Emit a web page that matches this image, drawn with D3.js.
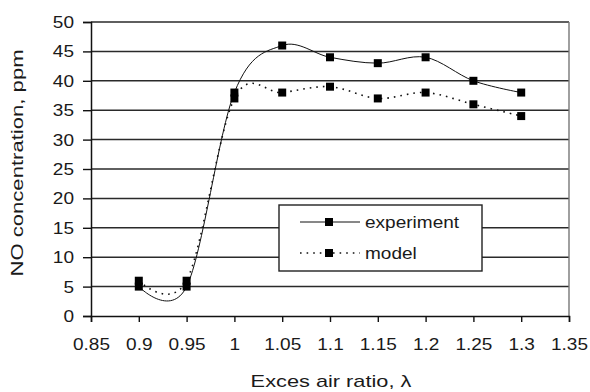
<!DOCTYPE html>
<html>
<head>
<meta charset="utf-8">
<script src="https://cdn.jsdelivr.net/npm/d3@7"></script>
<style>
  body { margin: 0; background: #fff; }
  text { font-family: "Liberation Sans", Arial, sans-serif; fill: #1a1a1a; }
</style>
</head>
<body>
<svg id="chart" width="590" height="392"></svg>
<script>
// data
var lambda = [0.9, 0.95, 1.0, 1.05, 1.1, 1.15, 1.2, 1.25, 1.3];
var experiment = [5, 5, 38, 46, 44, 43, 44, 40, 38];
var model = [6, 6, 37, 38, 39, 37, 38, 36, 34];
var xTicks = [0.85, 0.9, 0.95, 1, 1.05, 1.1, 1.15, 1.2, 1.25, 1.3, 1.35];
var yTicks = [0, 5, 10, 15, 20, 25, 30, 35, 40, 45, 50];
var seriesNames = ['experiment', 'model'];

var svg = d3.select('#chart');
var pL = 91, pR = 569, pT = 22, pB = 316;
var sx = 1.12; // text is a bit wide in the original

var x = d3.scaleLinear().domain([0.85, 1.35]).range([pL, pR]);
var y = d3.scaleLinear().domain([0, 50]).range([pB, pT]);

// horizontal grid
svg.append('g').selectAll('line').data(yTicks.slice(1)).enter().append('line')
  .attr('x1', pL).attr('x2', pR)
  .attr('y1', function(d){ return y(d); }).attr('y2', function(d){ return y(d); })
  .attr('stroke', '#2a2a2a').attr('stroke-width', 1.5);

// right border
svg.append('line').attr('x1', pR).attr('x2', pR).attr('y1', pT).attr('y2', pB)
  .attr('stroke', '#777').attr('stroke-width', 1.4);

// y axis
var yAxis = svg.append('g').attr('transform', 'translate(' + pL + ',0)')
  .call(d3.axisLeft(y).tickValues(yTicks).tickSize(8).tickPadding(9).tickFormat(d3.format('d')));
// x axis
var xAxis = svg.append('g').attr('transform', 'translate(0,' + pB + ')')
  .call(d3.axisBottom(x).tickValues(xTicks).tickSize(6).tickPadding(16).tickFormat(function(d){ return String(+d.toFixed(2)); }));

[yAxis, xAxis].forEach(function(a){
  a.select('.domain').attr('stroke', '#111').attr('stroke-width', 1.5);
  a.selectAll('.tick line').attr('stroke', '#111').attr('stroke-width', 1.4);
  a.selectAll('.tick text').attr('font-size', 17).attr('fill', '#1a1a1a')
    .attr('font-family', '"Liberation Sans", Arial, sans-serif');
});
yAxis.selectAll('.tick text').attr('transform', 'translate(-17,0) scale(' + sx + ',1) translate(17,0)');
xAxis.selectAll('.tick text').attr('transform', 'scale(' + sx + ',1)');

var line = d3.line()
  .x(function(d){ return x(d[0]); })
  .y(function(d){ return y(d[1]); })
  .curve(d3.curveCardinal.tension(0));

var expPts = lambda.map(function(l, i){ return [l, experiment[i]]; });
var modPts = lambda.map(function(l, i){ return [l, model[i]]; });

svg.append('path').datum(modPts).attr('d', line).attr('fill', 'none')
  .attr('stroke', '#111').attr('stroke-width', 1.6).attr('stroke-dasharray', '1.6,5');
svg.append('path').datum(expPts).attr('d', line).attr('fill', 'none')
  .attr('stroke', '#111').attr('stroke-width', 1);

var ms = 8;
[modPts, expPts].forEach(function(pts){
  svg.append('g').selectAll('rect').data(pts).enter().append('rect')
    .attr('x', function(d){ return x(d[0]) - ms/2; })
    .attr('y', function(d){ return y(d[1]) - ms/2; })
    .attr('width', ms).attr('height', ms).attr('fill', '#000');
});

// legend
var lg = svg.append('g').attr('transform', 'translate(279,205)');
lg.append('rect').attr('width', 203).attr('height', 66)
  .attr('fill', '#fff').attr('stroke', '#222').attr('stroke-width', 1.4);
seriesNames.forEach(function(name, i){
  var yy = 17 + i * 31;
  lg.append('line').attr('x1', 21).attr('x2', 81).attr('y1', yy).attr('y2', yy)
    .attr('stroke', '#111').attr('stroke-width', i ? 1.6 : 1)
    .attr('stroke-dasharray', i ? '1.6,5' : null);
  lg.append('rect').attr('x', 50 - ms/2).attr('y', yy - ms/2).attr('width', ms).attr('height', ms).attr('fill', '#000');
  lg.append('text').attr('transform', 'translate(86,' + (yy + 6) + ') scale(' + sx + ',1)')
    .attr('font-size', 17).text(name);
});

// axis titles
svg.append('text')
  .attr('transform', 'translate(331,387) scale(1.28,1)')
  .attr('text-anchor', 'middle').attr('font-size', 17).text('Exces air ratio, λ');
svg.append('text')
  .attr('transform', 'translate(23,163) rotate(-90) scale(1.3,1)')
  .attr('text-anchor', 'middle').attr('font-size', 17).text('NO concentration, ppm');
</script>
</body>
</html>
